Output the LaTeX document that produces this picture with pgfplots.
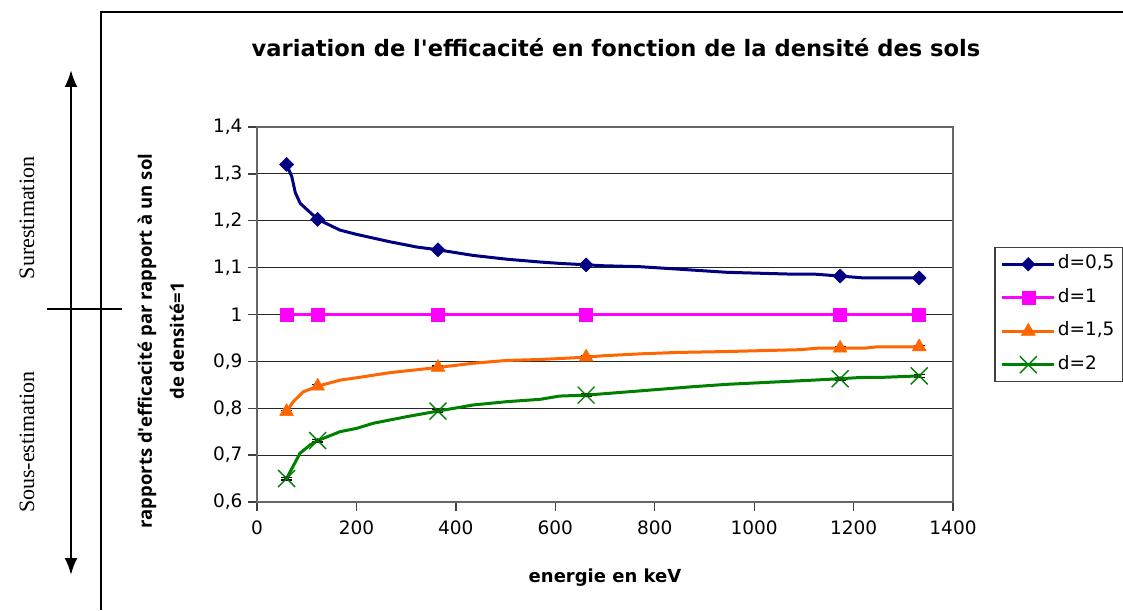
\documentclass[border=0pt]{standalone}
\usepackage{pgfplots}
\pgfplotsset{compat=1.18}
\usetikzlibrary{arrows.meta}
\usepackage{fontspec}
\setmainfont{DejaVu Sans}
\newfontfamily\labfont{Open Sans}
\newfontfamily\tnr{Liberation Serif}
\definecolor{cnavy}{RGB}{0,0,128}
\definecolor{cmag}{RGB}{255,0,255}
\definecolor{corange}{RGB}{255,102,0}
\definecolor{cgreen}{RGB}{0,128,0}
\begin{document}
\begin{tikzpicture}[x=1pt,y=1pt]
\path[use as bounding box] (0,0) rectangle (1123,610);
% frame
\draw[line width=2pt, black] (101,0) -- (101,598) -- (1123,598);
% over/under arrow
\draw[line width=2.4pt, {Latex[length=17pt,width=13pt]}-{Latex[length=17pt,width=13pt]}] (71,35) -- (71,540);
\draw[line width=1.8pt] (47,301) -- (122,301);
\node[rotate=90, font=\tnr\fontsize{22}{24}\selectfont] at (27,392) {Surestimation};
\node[rotate=90, font=\tnr\fontsize{22}{24}\selectfont] at (27,168) {Sous-estimation};
% title
\node[font=\fontsize{22.6}{26}\selectfont\bfseries] at (616,562) {variation de l\textquotesingle efficacité en fonction de la densité des sols};
% y label
\node[rotate=90, align=center, font=\labfont\bfseries\fontsize{18.5}{32}\selectfont] at (161,269) {rapports d\textquotesingle efficacité par rapport à un sol\\de densité=1};
% x label
\node[font=\fontsize{18}{20}\selectfont\bfseries] at (605,32) {energie en keV};
\begin{axis}[
  at={(257pt,108pt)}, anchor=south west,
  scale only axis, width=696pt, height=375pt,
  xmin=0, xmax=1400, ymin=0.6, ymax=1.4,
  xtick={0,200,...,1400},
  ytick={0.6,0.7,0.8,0.9,1,1.1,1.2,1.3,1.4},
  xtick pos=left, ytick pos=left,
  tick align=outside, major tick length=9pt,
  tick style={black!75, line width=1.3pt},
  axis line style={black!60, line width=1.6pt},
  ymajorgrids, grid style={black!85, line width=1.1pt},
  /pgf/number format/assume math mode=true,
  /pgf/number format/use comma,
  /pgf/number format/1000 sep={},
  tick label style={font=\fontsize{18.5}{20}\selectfont},
  yticklabel style={xshift=-2pt},
  xticklabel style={yshift=-6pt},
  legend style={at={(1.059,0.68)}, anchor=north west, draw=black!75, line width=1.5pt,
    font=\fontsize{18.5}{20}\selectfont, inner sep=6pt, row sep=12.5pt,
    nodes={inner sep=2pt, text height=13pt, text depth=4pt}, cells={anchor=west}},
  legend image code/.code={\draw[mark repeat=2,mark phase=2,#1] plot coordinates {(0pt,0pt) (26pt,0pt) (52pt,0pt)};},
]
\addlegendimage{cnavy, line width=3pt, mark=square*, mark size=4.8pt, mark options={solid, rotate=45, line width=0.5pt}}
\addlegendentry{d=0,5}
\addlegendimage{cmag, line width=3pt, mark=square*, mark size=6.5pt, mark options={solid, line width=0.5pt}}
\addlegendentry{d=1}
\addlegendimage{corange, line width=3pt, mark=triangle*, mark size=8pt, mark options={solid, line width=0.5pt}}
\addlegendentry{d=1,5}
\addlegendimage{cgreen, line width=3pt, mark=x, mark size=12pt, mark options={solid, line width=1.4pt}}
\addlegendentry{d=2}

\addplot[forget plot, cnavy, line width=3pt, line join=round, mark=square*, mark size=5pt,
  mark options={rotate=45, line width=0.5pt}, mark indices={1,5,10,15,22,24}] coordinates {
(59.5,1.320) (70,1.294) (77,1.260) (87,1.237) (122,1.203) (167,1.180) (200,1.171)
(268,1.155) (321,1.144) (364,1.138) (435,1.126) (502,1.118) (569,1.112) (609,1.109)
(662,1.106) (697,1.104) (770,1.102) (844,1.097) (945,1.090) (1079,1.086) (1123,1.086)
(1173,1.082) (1220,1.078) (1332,1.078)};

\addplot[forget plot, cmag, line width=3pt, mark=square*, mark size=6.5pt,
  mark options={line width=0.5pt}] coordinates {
(59.5,1) (122,1) (364,1) (662,1) (1173,1) (1332,1)};

% error-bar caps (black "=") at the d=1,5 and d=2 points
\addplot[forget plot, only marks, mark=none,
  error bars/.cd, y dir=both, y explicit, error mark=|,
  error bar style={draw=black, line width=0.8pt},
  error mark options={draw=black, mark size=5.5pt, line width=1.2pt}] coordinates {
(59.5,0.793) +- (0,0.003) (122,0.847) +- (0,0.003) (364,0.887) +- (0,0.003)
(662,0.909) +- (0,0.003) (1173,0.928) +- (0,0.003) (1332,0.931) +- (0,0.003)
(59.5,0.650) +- (0,0.003) (122,0.731) +- (0,0.003) (364,0.794) +- (0,0.003)
(662,0.828) +- (0,0.003) (1173,0.863) +- (0,0.003) (1332,0.869) +- (0,0.003)};

\addplot[forget plot, corange, line width=3pt, line join=round, mark=triangle*, mark size=8pt,
  mark options={line width=0.5pt}, mark indices={1,4,8,13,20,23}] coordinates {
(59.5,0.793) (73,0.814) (93,0.835) (122,0.847) (167,0.860) (200,0.865) (268,0.876)
(364,0.887) (435,0.896) (502,0.902) (569,0.904) (609,0.906) (662,0.909) (697,0.912)
(770,0.916) (844,0.919) (945,0.921) (1093,0.925) (1126,0.928) (1173,0.928) (1220,0.928)
(1247,0.931) (1332,0.931)};

\addplot[forget plot, cgreen, line width=3pt, line join=round, mark=x, mark size=12pt,
  mark options={line width=1.4pt}, mark indices={1,4,9,14,20,23}] coordinates {
(59.5,0.650) (86.5,0.704) (107,0.722) (122,0.731) (167,0.750) (200,0.757) (234,0.768)
(301,0.782) (364,0.794) (435,0.807) (502,0.814) (569,0.819) (609,0.826) (662,0.828)
(710,0.832) (770,0.837) (877,0.846) (945,0.851) (1119,0.860) (1173,0.863) (1220,0.866)
(1260,0.866) (1332,0.869)};
\end{axis}
\end{tikzpicture}
\end{document}
